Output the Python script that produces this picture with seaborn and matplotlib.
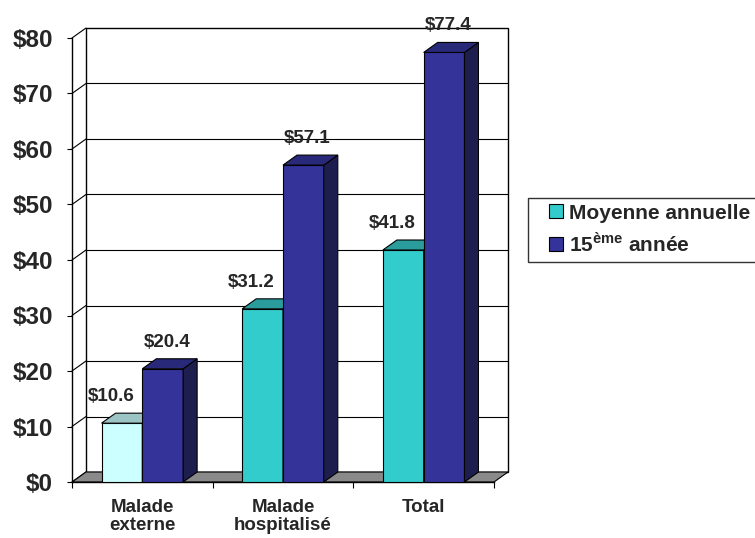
import matplotlib
matplotlib.use("Agg")
import matplotlib.pyplot as plt
from matplotlib.patches import Polygon, Rectangle
from matplotlib.lines import Line2D
import pandas as pd
import seaborn as sns

# data
categories = ["Malade\nexterne", "Malade\nhospitalisé", "Total"]
series = ["Moyenne annuelle", "15$^{\\mathbf{ème}}$ année"]
moyenne = [10.6, 31.2, 41.8]
annee15 = [20.4, 57.1, 77.4]
yticks = [0, 10, 20, 30, 40, 50, 60, 70, 80]
ytick_labels = ["$0", "$10", "$20", "$30", "$40", "$50", "$60", "$70", "$80"]

# colours: front, top, side
cyan = ["#33CCCC", "#2A9C9C", "#1F7070"]
light_cyan = ["#CCFFFF", "#9CC4C4", "#7FA0A0"]
blue = ["#333399", "#29297A", "#1E1E4E"]

sns.set_style("white")
plt.rcParams["font.family"] = ["Liberation Sans", "DejaVu Sans"]
plt.rcParams["mathtext.fontset"] = "custom"
plt.rcParams["mathtext.rm"] = "Liberation Sans"
plt.rcParams["mathtext.bf"] = "Liberation Sans:bold"

df = pd.DataFrame({
    "cat": categories * 2,
    "serie": [series[0]] * 3 + [series[1]] * 3,
    "val": moyenne + annee15,
})

fig = plt.figure(figsize=(7.55, 5.38), dpi=100)
ax = fig.add_axes([72 / 755, 56 / 538, 422 / 755, 444 / 538])

sns.barplot(data=df, x="cat", y="val", hue="serie", palette=[cyan[0], blue[0]],
            width=0.58, saturation=1, edgecolor="black", linewidth=0.8,
            legend=False, ax=ax)

ax.set_xlim(-0.5, 2.5)
ax.set_ylim(0, 80)
ax.set_xlabel("")
ax.set_ylabel("")

# depth of the 3d effect, in pixels -> data units
p0 = ax.transData.transform((0, 0))
p1 = ax.transData.transform((1, 1))
dx = 14 / (p1[0] - p0[0])
dy = 10 / (p1[1] - p0[1])
x0, x1 = ax.get_xlim()
ymax = yticks[-1]

# back wall, gridlines, side wall, floor
ax.add_patch(Rectangle((x0 + dx, dy), x1 - x0, ymax, facecolor="white",
                       edgecolor="black", linewidth=1, clip_on=False, zorder=0.5))
for v in yticks:
    if 0 < v < ymax:
        ax.plot([x0 + dx, x1 + dx], [v + dy, v + dy], color="black",
                linewidth=0.8, clip_on=False, zorder=0.6)
    ax.plot([x0, x0 + dx], [v, v + dy], color="black", linewidth=0.8,
            clip_on=False, zorder=0.6)
ax.add_patch(Polygon([(x0, 0), (x1, 0), (x1 + dx, dy), (x0 + dx, dy)],
                     closed=True, facecolor="#8A8A8A", edgecolor="black",
                     linewidth=0.8, clip_on=False, zorder=1))

# 3d faces of the bars
for i, cont in enumerate(ax.containers):
    for j, bar in enumerate(cont):
        cols = cyan if i == 0 else blue
        if i == 0 and j == 0:
            cols = light_cyan
        bar.set_facecolor(cols[0])
        bar.set_zorder(3 + i)
        x = bar.get_x()
        w = bar.get_width()
        h = bar.get_height()
        top = Polygon([(x, h), (x + w, h), (x + w + dx, h + dy), (x + dx, h + dy)],
                      closed=True, facecolor=cols[1], edgecolor="black",
                      linewidth=0.8, clip_on=False, zorder=3 + i)
        side = Polygon([(x + w, 0), (x + w + dx, dy), (x + w + dx, h + dy), (x + w, h)],
                       closed=True, facecolor=cols[2], edgecolor="black",
                       linewidth=0.8, clip_on=False, zorder=3 + i)
        ax.add_patch(side)
        ax.add_patch(top)
        ax.annotate(f"${h:.1f}", (x + w / 2, h), xytext=(-11 if i == 0 else 4, 26.5),
                    textcoords="offset pixels", ha="center", va="center",
                    fontsize=13.5, fontweight="bold", annotation_clip=False)

for s in ["top", "right"]:
    ax.spines[s].set_visible(False)
ax.spines["left"].set_color("black")
ax.spines["left"].set_linewidth(1)
ax.spines["bottom"].set_color("black")
ax.spines["bottom"].set_linewidth(1)

ax.set_yticks(yticks, ytick_labels)
ax.tick_params(axis="y", left=True, length=3.6, width=0.8, color="black",
               pad=10, labelsize=17.5)
for t in ax.get_yticklabels():
    t.set_fontweight("bold")

ax.set_xticks([0, 1, 2], categories)
ax.set_xticks([-0.5, 0.5, 1.5, 2.5], minor=True)
ax.tick_params(axis="x", which="major", length=0, pad=12, labelsize=13.5)
ax.tick_params(axis="x", which="minor", bottom=True, length=4.5, width=0.8, color="black")
for t in ax.get_xticklabels():
    t.set_fontweight("bold")
    t.set_linespacing(1.1)

handles = [Line2D([], [], linestyle="none", marker="s", markersize=10,
                  markerfacecolor=c, markeredgecolor="black", markeredgewidth=0.8)
           for c in [cyan[0], blue[0]]]
leg = fig.legend(handles, series, loc="upper left",
                 bbox_to_anchor=(528 / 755, 1 - 197.5 / 538), borderaxespad=0,
                 prop={"family": "Liberation Sans", "weight": "bold", "size": 15},
                 handlelength=2.05, handletextpad=-0.4, borderpad=0.3,
                 labelspacing=0.42, fancybox=False, frameon=True)
leg.get_frame().set_edgecolor("black")
leg.get_frame().set_linewidth(1)

fig.savefig("out.png", dpi=100)
